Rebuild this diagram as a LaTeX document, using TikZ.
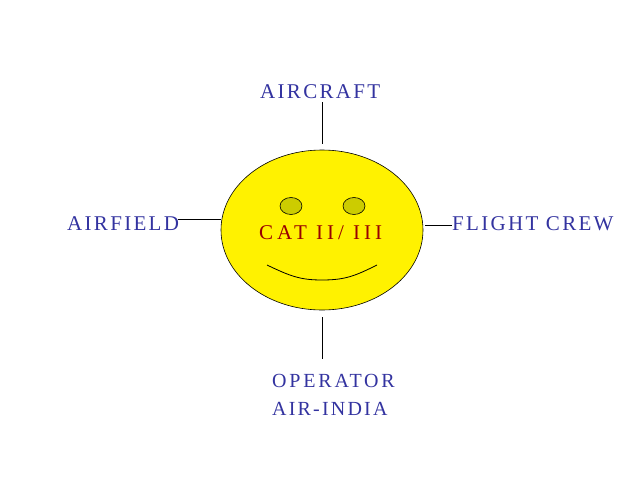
\documentclass[tikz,border=0pt]{standalone}
\usepackage{fontspec}
\setmainfont{Liberation Serif}
\newfontfamily\lblfont{Liberation Serif}[LetterSpace=11]
\newfontfamily\opfont{Liberation Serif}[LetterSpace=14]
\newfontfamily\catfont{Liberation Serif}[LetterSpace=19]
\usetikzlibrary{shapes.geometric}
\definecolor{lblblue}{RGB}{51,51,160}
\definecolor{catred}{RGB}{153,0,0}
\definecolor{eyeolive}{RGB}{204,204,0}
\tikzset{
  lbl/.style={inner sep=0pt, anchor=base west, text=lblblue, font=\lblfont\fontsize{21}{24}\selectfont},
  lblsmall/.style={lbl, font=\lblfont\fontsize{20}{23}\selectfont},
  conn/.style={draw=black, line width=0.8pt},
  eye/.style={ellipse, draw=black, line width=0.6pt, fill=eyeolive, minimum width=22pt, minimum height=17pt, inner sep=0pt},
}
\begin{document}
\begin{tikzpicture}[x=1pt,y=-1pt]
\useasboundingbox (0,0) rectangle (640,480);
\fill[white] (0,0) rectangle (640,480);
% face
\node[ellipse, draw=black, line width=0.6pt, fill=yellow, minimum width=202pt, minimum height=160pt, inner sep=0pt] (face) at (322,230) {};
\node[eye] (eyeL) at (291,206) {};
\node[eye] (eyeR) at (354,206) {};
\node[inner sep=0pt, anchor=base west, text=catred, font=\catfont\fontsize{21}{24}\selectfont] (cat) at (259,239) {CAT II/ III};
\draw[line width=0.8pt] (267,265) .. controls (290,276) and (300,280) .. (322,280) .. controls (345,280) and (355,276) .. (377,265);
% labels
\node[lbl] (aircraft) at (260,98) {AIRCRAFT};
\node[lbl] (airfield) at (67,230) {AIRFIELD};
\node[lbl] (crew) at (452,230) {FLIGHT CREW};
\node[lblsmall, font=\opfont\fontsize{20}{23}\selectfont] (operator) at (272,387) {OPERATOR};
\node[lblsmall] (airindia) at (272,415) {AIR-INDIA};
% connector ends
\coordinate (tA) at (322,102);
\coordinate (tB) at (322,144);
\coordinate (lA) at (178,219);
\coordinate (lB) at (face.west);
\coordinate (rA) at (425,225);
\coordinate (rB) at (452,225);
\coordinate (bA) at (322,317);
\coordinate (bB) at (322,359);
\draw[conn] (tA) -- (tB);
\draw[conn] (lA) -- (lB |- lA);
\draw[conn] (rA) -- (rB);
\draw[conn] (bA) -- (bB);
\end{tikzpicture}
\end{document}
